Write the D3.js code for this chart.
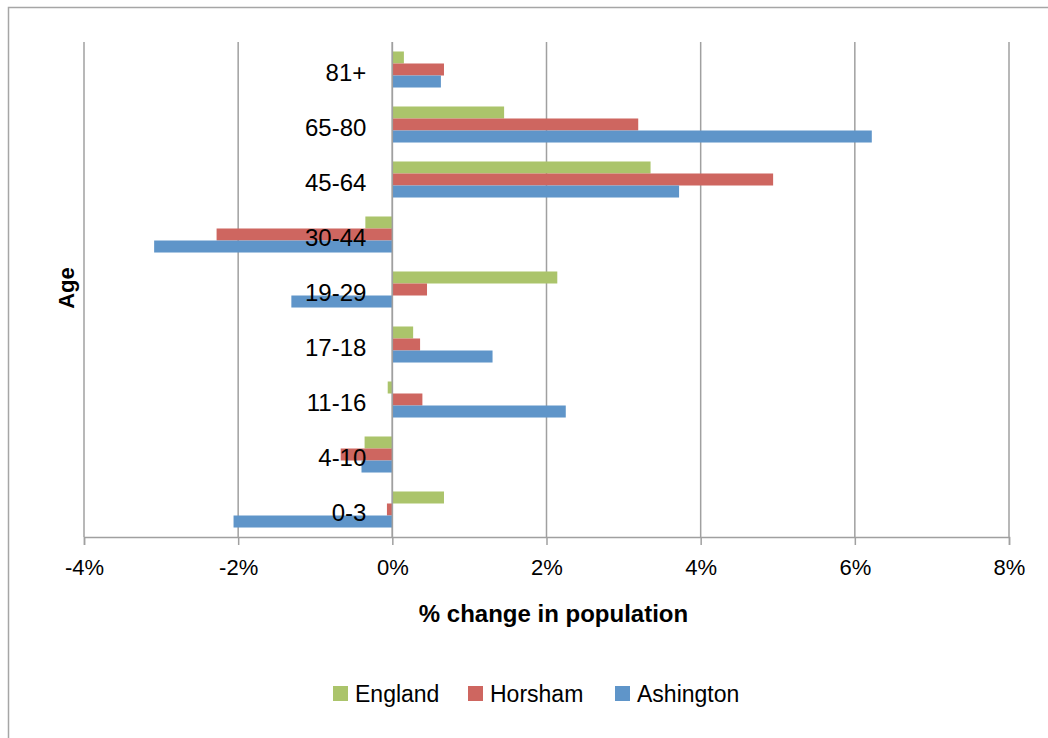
<!DOCTYPE html>
<html>
<head>
<meta charset="utf-8">
<script src="https://cdn.jsdelivr.net/npm/d3@7"></script>
<style>
  html, body { margin: 0; padding: 0; background: #fff; }
  svg { display: block; font-family: "Liberation Sans", Arial, sans-serif; }
</style>
</head>
<body>
<svg id="chart" width="1048" height="738"></svg>
<script>
// Age bands, listed top to bottom as drawn
const ageGroups = ["81+", "65-80", "45-64", "30-44", "19-29", "17-18", "11-16", "4-10", "0-3"];
const seriesNames = ["England", "Horsham", "Ashington"];
const seriesColors = ["#abc46b", "#ce6660", "#5f95c9"];

// % change in population per age band
const england   = [0.15, 1.45, 3.35, -0.35, 2.14, 0.27, -0.06, -0.36, 0.67];
const horsham   = [0.67, 3.19, 4.94, -2.28, 0.45, 0.36, 0.39, -0.67, -0.07];
const ashington = [0.63, 6.22, 3.72, -3.09, -1.31, 1.30, 2.25, -0.40, -2.06];

const xTicks = [-4, -2, 0, 2, 4, 6, 8];

const seriesValues = [england, horsham, ashington];

const svg = d3.select("#chart");

// outer chart frame (runs off the right and bottom edges)
svg.append("rect")
  .attr("x", 8.5).attr("y", 7.5)
  .attr("width", 1100).attr("height", 800)
  .attr("fill", "#fff")
  .attr("stroke", "#a6a6a6")
  .attr("stroke-width", 1.5);

const plot = { left: 84, right: 1009, top: 42, bottom: 537 };

const x = d3.scaleLinear().domain([-4, 8]).range([plot.left, plot.right]);
const y = d3.scaleBand().domain(ageGroups)
  .range([plot.top, plot.bottom])
  .paddingInner(0.345).paddingOuter(0.1725);
const ySub = d3.scaleBand().domain(seriesNames).range([0, y.bandwidth()]);

// vertical gridlines
svg.append("g").selectAll("line")
  .data(xTicks)
  .join("line")
  .attr("x1", d => x(d)).attr("x2", d => x(d))
  .attr("y1", plot.top).attr("y2", plot.bottom)
  .attr("stroke", "#a0a0a0")
  .attr("stroke-width", 1.5);

// horizontal value axis with outward ticks
const xAxis = d3.axisBottom(x)
  .tickValues(xTicks)
  .tickSize(8)
  .tickPadding(14)
  .tickFormat(d => d + "%");

const gx = svg.append("g")
  .attr("transform", `translate(0,${plot.bottom})`)
  .call(xAxis);
gx.select(".domain").attr("stroke", "#a0a0a0").attr("stroke-width", 1.5);
gx.selectAll(".tick line").attr("stroke", "#a0a0a0").attr("stroke-width", 1.5);
gx.selectAll(".tick text")
  .attr("fill", "#000")
  .style("font-size", "22px")
  .style("font-family", "'Liberation Sans', Arial, sans-serif");

// bars
const rows = ageGroups.map((g, i) => ({
  group: g,
  values: seriesNames.map((s, k) => ({ series: s, value: seriesValues[k][i], color: seriesColors[k] }))
}));

svg.append("g").selectAll("g")
  .data(rows)
  .join("g")
  .attr("transform", d => `translate(0,${y(d.group)})`)
  .selectAll("rect")
  .data(d => d.values)
  .join("rect")
  .attr("x", d => x(Math.min(0, d.value)))
  .attr("width", d => Math.abs(x(d.value) - x(0)))
  .attr("y", d => ySub(d.series))
  .attr("height", ySub.bandwidth())
  .attr("fill", d => d.color);

// vertical category axis line at zero
svg.append("line")
  .attr("x1", x(0)).attr("x2", x(0))
  .attr("y1", plot.top).attr("y2", plot.bottom)
  .attr("stroke", "#a0a0a0")
  .attr("stroke-width", 1.5);

// category labels sit just left of the zero line, above the bars
svg.append("g").selectAll("text")
  .data(ageGroups)
  .join("text")
  .attr("x", x(0) - 26)
  .attr("y", d => y(d) + y.bandwidth() / 2 + 3)
  .attr("text-anchor", "end")
  .attr("dominant-baseline", "central")
  .style("font-size", "24px")
  .attr("fill", "#000")
  .text(d => d);

// axis titles
svg.append("text")
  .attr("x", (plot.left + plot.right) / 2 + 7)
  .attr("y", 622)
  .attr("text-anchor", "middle")
  .style("font-size", "24px")
  .style("font-weight", "bold")
  .text("% change in population");

svg.append("text")
  .attr("transform", "translate(74,288) rotate(-90)")
  .attr("text-anchor", "middle")
  .style("font-size", "22px")
  .style("font-weight", "bold")
  .text("Age");

// legend
const legendX = [333, 468, 615];
const legend = svg.append("g").selectAll("g")
  .data(seriesNames)
  .join("g")
  .attr("transform", (d, i) => `translate(${legendX[i]},686)`);
legend.append("rect")
  .attr("width", 15).attr("height", 15)
  .attr("fill", (d, i) => seriesColors[i]);
legend.append("text")
  .attr("x", 22).attr("y", 16)
  .style("font-size", "23px")
  .attr("fill", "#000")
  .text(d => d);
</script>
</body>
</html>
